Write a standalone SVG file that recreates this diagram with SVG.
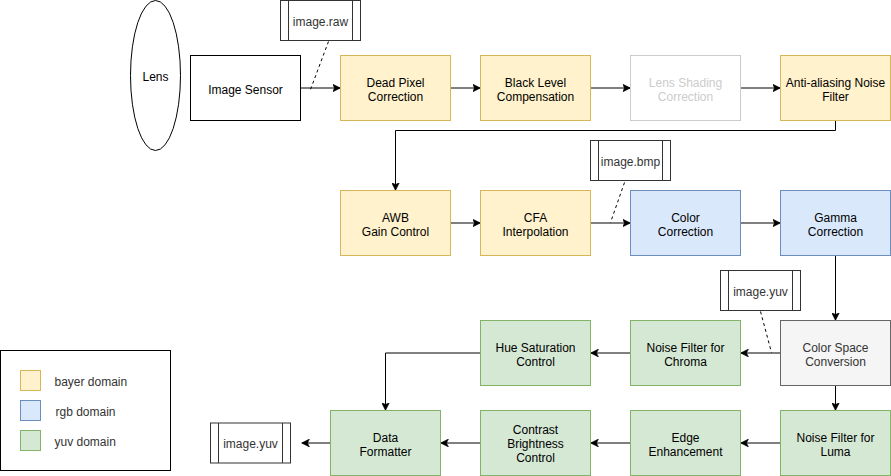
<svg xmlns="http://www.w3.org/2000/svg" width="891" height="476" viewBox="0 0 891 476">
<style>
text{font-family:"Liberation Sans",Arial,Helvetica,sans-serif;font-size:12px;text-anchor:middle;fill:#000}
.bayer{fill:#fff2cc;stroke:#d6b656}
.rgb{fill:#dae8fc;stroke:#6c8ebf}
.yuv{fill:#d5e8d4;stroke:#82b366}
.plain{fill:#fff;stroke:#000}
.grey{fill:#f5f5f5;stroke:#666}
.off{fill:#fff;stroke:#ccc}
.file{fill:#fff;stroke:#333}
.edge{fill:none;stroke:#000;stroke-width:1}
.dash{fill:none;stroke:#000;stroke-dasharray:3 3}
.t3{fill:#333}
.tl{fill:#ccc}
.leg{text-anchor:start;fill:#333}
</style>
<defs>
<marker id="arr" viewBox="0 0 8 8" refX="8" refY="4" markerWidth="8" markerHeight="8" markerUnits="userSpaceOnUse" orient="auto">
<path d="M0,0 L8,4 L0,8 L2,4 Z" fill="#000" stroke="#000" stroke-width="0.5"/>
</marker>
</defs>
<rect width="891" height="476" fill="#fff"/>
<g transform="translate(0.5,0.5)">
<g id="connectors">
<path class="edge" d="M300,87.5 H340" marker-end="url(#arr)"/>
<path class="edge" d="M450,87.5 H480" marker-end="url(#arr)"/>
<path class="edge" d="M590,87.5 H630" marker-end="url(#arr)"/>
<path class="edge" d="M740,87.5 H780" marker-end="url(#arr)"/>
<path class="edge" d="M835,120 V130 H395 V190" marker-end="url(#arr)"/>
<path class="edge" d="M450,222.5 H480" marker-end="url(#arr)"/>
<path class="edge" d="M590,222.5 H630" marker-end="url(#arr)"/>
<path class="edge" d="M740,222.5 H780" marker-end="url(#arr)"/>
<path class="edge" d="M835,255 V320" marker-end="url(#arr)"/>
<path class="edge" d="M780,352.5 H740" marker-end="url(#arr)"/>
<path class="edge" d="M630,352.5 H590" marker-end="url(#arr)"/>
<path class="edge" d="M480,352.5 H385 V410" marker-end="url(#arr)"/>
<path class="edge" d="M835,385 V410" marker-end="url(#arr)"/>
<path class="edge" d="M780,442.5 H740" marker-end="url(#arr)"/>
<path class="edge" d="M630,442.5 H590" marker-end="url(#arr)"/>
<path class="edge" d="M480,442.5 H440" marker-end="url(#arr)"/>
<path class="edge" d="M330,442.5 H301" marker-end="url(#arr)"/>
<path class="dash" d="M328,41 L310,89"/>
<path class="dash" d="M624,182 L610,222"/>
<path class="dash" d="M760,311 L771,352"/>
</g>
<g id="lens"><ellipse cx="155" cy="75" rx="25" ry="75" class="plain"/><text x="155" y="80">Lens</text></g>
<g id="image-sensor"><rect x="190" y="55" width="110" height="65" class="plain"/><text x="245" y="93">Image Sensor</text></g>
<g id="file-raw"><rect x="280" y="0" width="80" height="40" class="file"/><path d="M288,0 V40 M352,0 V40" stroke="#333" fill="none"/><text class="t3" x="320" y="25">image.raw</text></g>
<g id="dead-pixel"><rect x="340" y="55" width="110" height="65" class="bayer"/><text x="395" y="86">Dead Pixel</text><text x="395" y="100">Correction</text></g>
<g id="black-level"><rect x="480" y="55" width="110" height="65" class="bayer"/><text x="535" y="86">Black Level</text><text x="535" y="100">Compensation</text></g>
<g id="lens-shading"><rect x="630" y="55" width="110" height="65" class="off"/><text class="tl" x="685" y="86">Lens Shading</text><text class="tl" x="685" y="100">Correction</text></g>
<g id="anti-aliasing"><rect x="780" y="55" width="110" height="65" class="bayer"/><text x="835" y="86">Anti-aliasing Noise</text><text x="835" y="100">Filter</text></g>
<g id="awb"><rect x="340" y="190" width="110" height="65" class="bayer"/><text x="395" y="221">AWB</text><text x="395" y="235">Gain Control</text></g>
<g id="cfa"><rect x="480" y="190" width="110" height="65" class="bayer"/><text x="535" y="221">CFA</text><text x="535" y="235">Interpolation</text></g>
<g id="file-bmp"><rect x="590" y="140" width="80" height="40" class="file"/><path d="M598,140 V180 M662,140 V180" stroke="#333" fill="none"/><text class="t3" x="630" y="165">image.bmp</text></g>
<g id="color-correction"><rect x="630" y="190" width="110" height="65" class="rgb"/><text x="685" y="221">Color</text><text x="685" y="235">Correction</text></g>
<g id="gamma"><rect x="780" y="190" width="110" height="65" class="rgb"/><text x="835" y="221">Gamma</text><text x="835" y="235">Correction</text></g>
<g id="file-yuv-1"><rect x="720" y="270" width="80" height="40" class="file"/><path d="M728,270 V310 M792,270 V310" stroke="#333" fill="none"/><text class="t3" x="760" y="295">image.yuv</text></g>
<g id="csc"><rect x="780" y="320" width="110" height="65" class="grey"/><text class="t3" x="835" y="351">Color Space</text><text class="t3" x="835" y="365">Conversion</text></g>
<g id="nf-chroma"><rect x="630" y="320" width="110" height="65" class="yuv"/><text x="685" y="351">Noise Filter for</text><text x="685" y="365">Chroma</text></g>
<g id="hue-sat"><rect x="480" y="320" width="110" height="65" class="yuv"/><text x="535" y="351">Hue Saturation</text><text x="535" y="365">Control</text></g>
<g id="nf-luma"><rect x="780" y="410" width="110" height="65" class="yuv"/><text x="835" y="441">Noise Filter for</text><text x="835" y="455">Luma</text></g>
<g id="edge-enh"><rect x="630" y="410" width="110" height="65" class="yuv"/><text x="685" y="441">Edge</text><text x="685" y="455">Enhancement</text></g>
<g id="contrast"><rect x="480" y="410" width="110" height="65" class="yuv"/><text x="535" y="433.5">Contrast</text><text x="535" y="447.5">Brightness</text><text x="535" y="461.5">Control</text></g>
<g id="data-formatter"><rect x="330" y="410" width="110" height="65" class="yuv"/><text x="385" y="441">Data</text><text x="385" y="455">Formatter</text></g>
<g id="file-yuv-2"><rect x="210" y="422.5" width="80" height="40" class="file"/><path d="M218,422.5 V462.5 M282,422.5 V462.5" stroke="#333" fill="none"/><text class="t3" x="250" y="447">image.yuv</text></g>
<g id="legend">
<rect x="0" y="350" width="170" height="120" fill="#fff" stroke="#000"/>
<rect x="20" y="370" width="20" height="20" class="bayer"/>
<rect x="20" y="400" width="20" height="20" class="rgb"/>
<rect x="20" y="430" width="20" height="20" class="yuv"/>
<text class="leg" x="54" y="385">bayer domain</text>
<text class="leg" x="55" y="415">rgb domain</text>
<text class="leg" x="54" y="445">yuv domain</text>
</g>
</g>
</svg>
